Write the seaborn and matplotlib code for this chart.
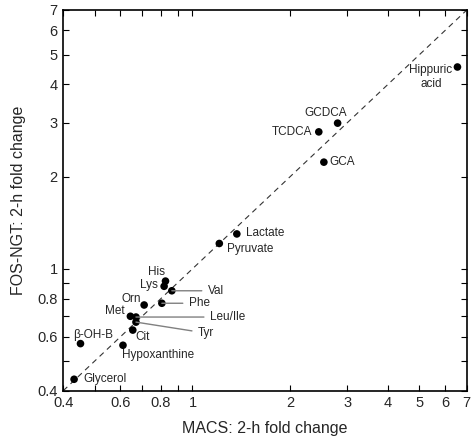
# fold change scatter: MACS vs FOS-NGT (2-h)
import numpy as np
import pandas as pd
import matplotlib
matplotlib.use('Agg')
import matplotlib.pyplot as plt
import seaborn as sns

# values
names = ['Hippuric\nacid', 'GCDCA', 'TCDCA', 'GCA', 'Lactate', 'Pyruvate',
         'His', 'Lys', 'Val', 'Orn', 'Phe', 'Met', 'Leu/Ile', 'Tyr', 'Cit',
         'Hypoxanthine', 'β-OH-B', 'Glycerol']
macs = [6.55, 2.80, 2.45, 2.54, 1.37, 1.21,
        0.826, 0.818, 0.864, 0.71, 0.805, 0.644, 0.67, 0.67, 0.655,
        0.611, 0.452, 0.432]
fos = [4.56, 2.99, 2.80, 2.23, 1.30, 1.21,
       0.912, 0.877, 0.848, 0.762, 0.772, 0.70, 0.696, 0.67, 0.631,
       0.563, 0.57, 0.436]

major_ticks = [0.4, 0.6, 0.8, 1, 2, 3, 4, 5, 6, 7]
major_labels = ['0.4', '0.6', '0.8', '1', '2', '3', '4', '5', '6', '7']
minor_ticks = [0.5, 0.7, 0.9]

df = pd.DataFrame({'name': names, 'macs': macs, 'fos': fos})

# label placement: (dx, dy in pixels, ha, leader line)
layout = {
    'Hippuric\nacid': (-5, -10, 'right', False),
    'GCDCA': (-12, 10, 'center', False),
    'TCDCA': (-7, 0, 'right', False),
    'GCA': (6, 0, 'left', False),
    'Lactate': (9, 1, 'left', False),
    'Pyruvate': (8, -6, 'left', False),
    'His': (-9, 9, 'center', False),
    'Lys': (-6, 1, 'right', False),
    'Val': (36, 0, 'left', True),
    'Orn': (-13, 6, 'center', False),
    'Phe': (27, 0, 'left', True),
    'Met': (-6, 5, 'right', False),
    'Leu/Ile': (74, 0, 'left', True),
    'Tyr': (62, -11, 'left', True),
    'Cit': (3, -7, 'left', False),
    'Hypoxanthine': (-1, -10, 'left', False),
    'β-OH-B': (-7, 9, 'left', False),
    'Glycerol': (9, 0, 'left', False),
}

sns.set_style('ticks')
plt.rcParams['font.family'] = ['Liberation Sans', 'DejaVu Sans']

fig = plt.figure(figsize=(4.72, 4.44), dpi=100)
ax = fig.add_axes([0.134, 0.12, 0.855, 0.8575])

ax.set_xscale('log')
ax.set_yscale('log')
ax.set_xlim(0.4, 7)
ax.set_ylim(0.4, 7)

# identity line
ax.plot([0.4, 7], [0.4, 7], color='#333333', lw=0.8, dashes=(5, 4), zorder=1)

sns.scatterplot(data=df, x='macs', y='fos', ax=ax, color='black', s=30,
                edgecolor='none', zorder=3, legend=False)

for n, x, y in zip(names, macs, fos):
    dx, dy, ha, lead = layout[n]
    kw = {}
    if lead:
        kw['arrowprops'] = dict(arrowstyle='-', color='#808080', lw=1,
                                shrinkA=2, shrinkB=0)
    ax.annotate(n, (x, y), xytext=(dx, dy), textcoords='offset pixels',
                ha=ha, va='center', fontsize=8.5, multialignment='center',
                **kw)

ax.set_xticks(major_ticks, major_labels)
ax.set_yticks(major_ticks, major_labels)
ax.set_xticks(minor_ticks, minor=True)
ax.set_yticks(minor_ticks, minor=True)
ax.set_xticklabels([], minor=True)
ax.set_yticklabels([], minor=True)
ax.tick_params(which='both', direction='in', top=True, right=True,
               length=4, width=0.8, labelsize=10.5, color='black', pad=4)

for sp in ax.spines.values():
    sp.set_linewidth(1.2)
    sp.set_color('black')

ax.set_xlabel('MACS: 2-h fold change', fontsize=11.5, labelpad=8)
ax.set_ylabel('FOS-NGT: 2-h fold change', fontsize=11.5, labelpad=8)

fig.savefig('out.png', dpi=100)
